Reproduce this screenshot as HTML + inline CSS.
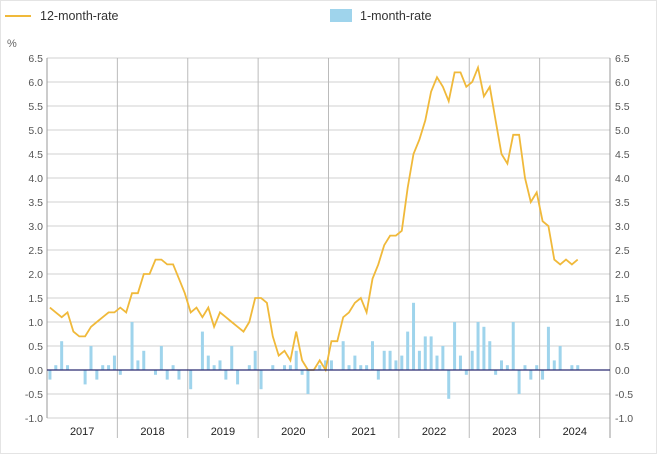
<!DOCTYPE html>
<html><head><meta charset="utf-8"><style>
body{margin:0;background:#fff;font-family:"Liberation Sans",sans-serif;}
#wrap{position:relative;width:658px;height:456px;overflow:hidden;}
</style></head><body>
<div id="wrap">
<svg id="chart" width="658" height="456" style="position:absolute;left:0;top:0">
<rect x="0.5" y="0.5" width="656" height="453" fill="#fff" stroke="#e4e4e4"/>
<g><line x1="5" y1="16" x2="31" y2="16" stroke="#f0b93a" stroke-width="2"/><text x="40" y="20" font-size="12.5" fill="#333">12-month-rate</text></g>
<g><rect x="330" y="9" width="22" height="13" fill="#9fd4ec"/><text x="360" y="20" font-size="12.5" fill="#333">1-month-rate</text></g>
<text x="7" y="47" font-size="11" fill="#666">%</text>
<g id="grid"></g><g id="bars"></g><g id="line"></g><g id="axes"></g>
</svg>
</div>
<script>
const years=["2017","2018","2019","2020","2021","2022","2023","2024"];
const yTicks=[6.5,6.0,5.5,5.0,4.5,4.0,3.5,3.0,2.5,2.0,1.5,1.0,0.5,0.0,-0.5,-1.0];
const rate12=[1.3,1.2,1.1,1.2,0.8,0.7,0.7,0.9,1.0,1.1,1.2,1.2,
1.3,1.2,1.6,1.6,2.0,2.0,2.3,2.3,2.2,2.2,1.9,1.6,
1.2,1.3,1.1,1.3,0.9,1.2,1.1,1.0,0.9,0.8,1.0,1.5,
1.5,1.4,0.7,0.3,0.4,0.2,0.8,0.2,0.0,0.0,0.2,0.0,
0.6,0.6,1.1,1.2,1.4,1.5,1.2,1.9,2.2,2.6,2.8,2.8,
2.9,3.8,4.5,4.8,5.2,5.8,6.1,5.9,5.6,6.2,6.2,5.9,
6.0,6.3,5.7,5.9,5.2,4.5,4.3,4.9,4.9,4.0,3.5,3.7,
3.1,3.0,2.3,2.2,2.3,2.2,2.3];
const rate1=[-0.2,0.1,0.6,0.1,0,0,-0.3,0.5,-0.2,0.1,0.1,0.3,
-0.1,0,1.0,0.2,0.4,0,-0.1,0.5,-0.2,0.1,-0.2,0,
-0.4,0,0.8,0.3,0.1,0.2,-0.2,0.5,-0.3,0,0.1,0.4,
-0.4,0,0.1,0,0.1,0.1,0.4,-0.1,-0.5,0,0.1,0.2,
0.2,0,0.6,0.1,0.3,0.1,0.1,0.6,-0.2,0.4,0.4,0.2,
0.3,0.8,1.4,0.4,0.7,0.7,0.3,0.5,-0.6,1.0,0.3,-0.1,
0.4,1.0,0.9,0.6,-0.1,0.2,0.1,1.0,-0.5,0.1,-0.2,0.1,
-0.2,0.9,0.2,0.5,0,0.1,0.1];
const NS="http://www.w3.org/2000/svg";
const X0=47,X1=610,YT=58,YB=418,VMAX=6.5,VMIN=-1.0;
const yw=(X1-X0)/years.length;
function xm(i){return X0+yw*(i+0.5)/12;}
function yv(v){return YT+(VMAX-v)/(VMAX-VMIN)*(YB-YT);}
function mk(tag,attrs,parent){const e=document.createElementNS(NS,tag);for(const k in attrs)e.setAttribute(k,attrs[k]);parent.appendChild(e);return e;}
const grid=document.getElementById('grid'),axes=document.getElementById('axes');
yTicks.forEach(t=>{
 const l=mk('line',{x1:X0,x2:X1,y1:yv(t),y2:yv(t),stroke:'#d0d0d0','stroke-width':1},grid);
 
 
 const a=mk('text',{x:43,y:yv(t)+4,'font-size':10.5,fill:'#555','text-anchor':'end'},axes);a.textContent=t.toFixed(1);
 
 
 const b=mk('text',{x:615,y:yv(t)+4,'font-size':10.5,fill:'#555'},axes);b.textContent=t.toFixed(1);
 
 
});
years.forEach((y,i)=>{
 const x=X0+yw*i;
 if(i>0){const l=mk('line',{x1:x,x2:x,y1:YT,y2:438,stroke:'#bbb','stroke-width':1},grid);
 
 }
 const t=mk('text',{x:x+yw/2,y:435,'font-size':11,fill:'#222','text-anchor':'middle'},axes);t.textContent=y;
 
 
});
mk('line',{x1:X0,x2:X0,y1:YT,y2:YB,stroke:'#999'},axes);
mk('line',{x1:X1,x2:X1,y1:YT,y2:438,stroke:'#999'},axes);
const bars=document.getElementById('bars');
rate1.forEach((v,i)=>{
 const y0=yv(0),y1=yv(v);
 const r=mk('rect',{x:xm(i)-1.5,y:Math.min(y0,y1),width:3,height:Math.abs(y1-y0),fill:'#9fd4ec'},bars);
 
 
});
const z=mk('line',{x1:X0,x2:X1,y1:yv(0),y2:yv(0),stroke:'#2a2a70','stroke-width':1.2},axes);


const p=mk('polyline',{points:rate12.map((v,i)=>xm(i).toFixed(1)+','+yv(v).toFixed(1)).join(' '),fill:'none',stroke:'#f0b93a','stroke-width':1.8},document.getElementById('line'));


</script>
</body></html>
